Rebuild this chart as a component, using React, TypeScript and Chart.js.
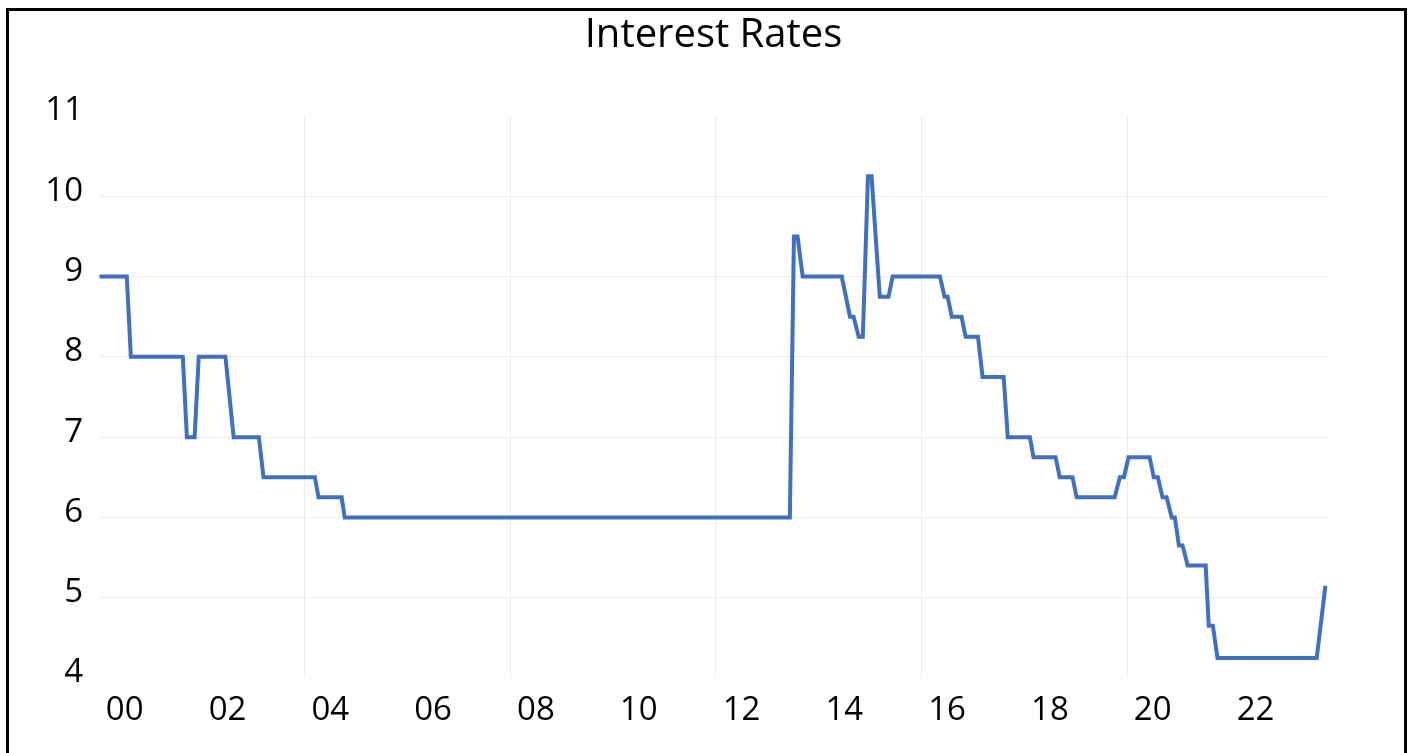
import React, { useEffect, useRef } from "react";
import { Chart, registerables } from "chart.js";

Chart.register(...registerables);

// Decimal-year positions of the rate points
const rateDates = [
  1999.51, 2000.04, 2000.12, 2001.13, 2001.21, 2001.36, 2001.44, 2001.96, 2002.12, 2002.61,
  2002.7, 2003.7, 2003.77, 2004.22, 2004.28, 2012.94, 2013.02, 2013.09, 2013.19, 2013.95,
  2014.11, 2014.18, 2014.28, 2014.36, 2014.46, 2014.53, 2014.69, 2014.86, 2014.94, 2015.86,
  2015.95, 2016.01, 2016.09, 2016.28, 2016.36, 2016.6, 2016.69, 2017.1, 2017.18, 2017.61,
  2017.68, 2018.11, 2018.19, 2018.44, 2018.52, 2019.26, 2019.36, 2019.44, 2019.53, 2019.94,
  2020.02, 2020.1, 2020.19, 2020.27, 2020.37, 2020.43, 2020.51, 2020.58, 2020.68, 2021.03,
  2021.09, 2021.17, 2021.26, 2023.19, 2023.36,
];

const rateValues = [
  9, 9, 8, 8, 7, 7, 8, 8, 7, 7,
  6.5, 6.5, 6.25, 6.25, 6, 6, 9.5, 9.5, 9, 9,
  8.5, 8.5, 8.25, 8.25, 10.25, 10.25, 8.75, 8.75, 9, 9,
  8.75, 8.75, 8.5, 8.5, 8.25, 8.25, 7.75, 7.75, 7, 7,
  6.75, 6.75, 6.5, 6.5, 6.25, 6.25, 6.5, 6.5, 6.75, 6.75,
  6.5, 6.5, 6.25, 6.25, 6, 6, 5.65, 5.65, 5.4, 5.4,
  4.65, 4.65, 4.25, 4.25, 5.15,
];

const xTickYears = [2000, 2002, 2004, 2006, 2008, 2010, 2012, 2014, 2016, 2018, 2020, 2022];
const xTickLabels = ["00", "02", "04", "06", "08", "10", "12", "14", "16", "18", "20", "22"];
const xGridYears = [2003.5, 2007.5, 2011.5, 2015.5, 2019.5];

const X_MIN = 1999.5;
const X_MAX = 2023.41;
const Y_MIN = 4;
const Y_MAX = 11;

const FONT = "'Open Sans', 'Noto Sans', sans-serif";
const GRID = "#ededed";

export default function App() {
  const canvasRef = useRef<HTMLCanvasElement | null>(null);

  useEffect(() => {
    if (!canvasRef.current) return;
    const points = rateDates.map((x, i) => ({ x, y: rateValues[i] }));
    const chart = new Chart(canvasRef.current, {
      type: "line",
      data: {
        datasets: [
          {
            label: "Interest Rates",
            data: points,
            borderColor: "#4170BE",
            backgroundColor: "#4170BE",
            borderWidth: 4,
            pointRadius: 0,
            tension: 0,
            fill: false,
          },
        ],
      },
      options: {
        animation: false,
        responsive: true,
        maintainAspectRatio: false,
        layout: { padding: { left: 0, right: 83, top: 0, bottom: 0 } },
        plugins: {
          legend: { display: false },
          tooltip: { enabled: false },
          title: {
            display: true,
            text: "Interest Rates",
            color: "#000",
            fullSize: false,
            font: { family: FONT, size: 40, weight: "normal" },
            padding: { top: 12, bottom: 56 },
          },
        },
        scales: {
          x: {
            type: "linear",
            position: "bottom",
            min: X_MIN,
            max: X_MAX,
            afterBuildTicks: (scale: any) => {
              scale.ticks = xTickYears.map((value) => ({ value }));
            },
            afterFit: (scale: any) => {
              scale.height = 75;
            },
            grid: { display: false, drawTicks: false },
            border: { display: false },
            ticks: {
              autoSkip: false,
              maxRotation: 0,
              padding: 13,
              color: "#000",
              font: { family: FONT, size: 33 },
              callback: (_v: any, index: number) => xTickLabels[index],
            },
          },
          x2: {
            type: "linear",
            position: "bottom",
            min: X_MIN,
            max: X_MAX,
            afterBuildTicks: (scale: any) => {
              scale.ticks = xGridYears.map((value) => ({ value }));
            },
            afterFit: (scale: any) => {
              scale.height = 0;
            },
            grid: { display: true, drawTicks: false, color: GRID, lineWidth: 1 },
            border: { display: false },
            ticks: { display: false },
          },
          y: {
            type: "linear",
            min: Y_MIN,
            max: Y_MAX,
            afterFit: (scale: any) => {
              scale.width = 99;
            },
            grid: {
              drawTicks: false,
              lineWidth: 1,
              color: (ctx: any) =>
                ctx.tick && (ctx.tick.value === Y_MIN || ctx.tick.value === Y_MAX) ? "rgba(0,0,0,0)" : GRID,
            },
            border: { display: false },
            ticks: {
              stepSize: 1,
              padding: 16,
              labelOffset: -5,
              color: "#000",
              font: { family: FONT, size: 33 },
            },
          },
        },
      },
    });
    return () => chart.destroy();
  }, []);

  return (
    <>
      <div style={{ position: "absolute", left: 0, top: 0, width: 1411, height: 753, background: "#fff" }}>
        <canvas ref={canvasRef} />
      </div>
      <div
        style={{
          position: "absolute",
          left: 6,
          top: 8,
          width: 1401,
          height: 745,
          boxSizing: "border-box",
          borderTop: "3px solid #000",
          borderLeft: "3px solid #000",
          borderRight: "3px solid #000",
          borderBottom: "none",
          pointerEvents: "none",
        }}
      />
    </>
  );
}
